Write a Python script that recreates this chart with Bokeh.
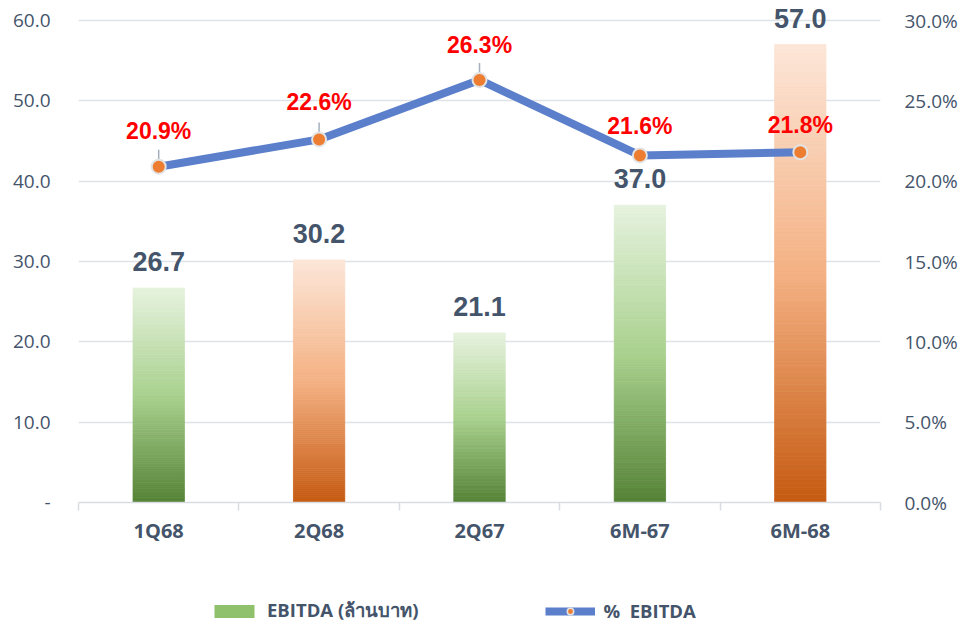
import math
from bokeh.plotting import figure
from bokeh.layouts import column
from bokeh.models import (Range1d, LinearAxis, FixedTicker, PrintfTickFormatter,
                          Legend, LegendItem, ColumnDataSource)
from bokeh.core.properties import value
from bokeh.embed import file_html
from bokeh.resources import INLINE

# ---- data ----
categories = ["1Q68", "2Q68", "2Q67", "6M-67", "6M-68"]
ebitda = [26.7, 30.2, 21.1, 37.0, 57.0]
ebitda_pct = [20.9, 22.6, 26.3, 21.6, 21.8]
left_ticks = [0, 10, 20, 30, 40, 50, 60]
right_ticks = [0, 5, 10, 15, 20, 25, 30]
legend_labels = ["EBITDA (ล้านบาท)", "%  EBITDA"]

# ---- styles ----
bar_group = ["green", "orange", "green", "green", "orange"]
gradients = {
    "green": [(0.0, "#548235"), (0.5, "#a9d18e"), (1.0, "#e6f2de")],
    "orange": [(0.0, "#c55a11"), (0.5, "#f4b183"), (1.0, "#fce6d8")],
}
pct_label_offsets = [36, 37, 35, 29, 27]
pct_leader = [True, True, True, False, False]
TXT = "#44546a"
FRAME_H = 502      # frame height in px; 60 / 30 sit 20px below its top
TOP_PAD = 20


def hex2rgb(h):
    return tuple(int(h[i:i + 2], 16) for i in (1, 3, 5))


def interp(stops, t):
    for (t0, c0), (t1, c1) in zip(stops, stops[1:]):
        if t <= t1:
            f = (t - t0) / (t1 - t0)
            a, b = hex2rgb(c0), hex2rgb(c1)
            return "#%02x%02x%02x" % tuple(round(a[j] + (b[j] - a[j]) * f) for j in range(3))
    return stops[-1][1]


n = len(categories)
centers = [i + 0.5 for i in range(n)]
bounds = [float(i) for i in range(n + 1)]
scale = FRAME_H / (FRAME_H - TOP_PAD)

p = figure(width=962, height=590, output_backend="svg", toolbar_location=None,
           x_range=Range1d(0, n), y_range=Range1d(0, left_ticks[-1] * scale),
           min_border_left=78, min_border_right=82, min_border_top=0, min_border_bottom=88)
p.outline_line_color = None
p.background_fill_color = "white"
p.border_fill_color = "white"
p.extra_y_ranges = {"pct": Range1d(0, right_ticks[-1] * scale)}

# grid
p.xgrid.visible = False
p.ygrid.ticker = FixedTicker(ticks=left_ticks)
p.ygrid.grid_line_color = "#dfe3e8"
p.ygrid.grid_line_width = 1.5

# left axis
la = p.yaxis[0]
la.ticker = FixedTicker(ticks=left_ticks)
la.major_label_overrides = {t: ("-" if t == 0 else "%.1f" % t) for t in left_ticks}
la.axis_line_color = None
la.major_tick_line_color = None
la.minor_tick_line_color = None
la.major_label_standoff = 22
la.major_label_text_font = "Open Sans"
la.major_label_text_font_size = "19px"
la.major_label_text_color = TXT

# right axis
ra = LinearAxis(y_range_name="pct", ticker=FixedTicker(ticks=right_ticks),
                formatter=PrintfTickFormatter(format="%.1f%%"))
ra.axis_line_color = None
ra.major_tick_line_color = None
ra.minor_tick_line_color = None
ra.major_label_standoff = 18
ra.major_label_text_font = "Open Sans"
ra.major_label_text_font_size = "19px"
ra.major_label_text_color = TXT
p.add_layout(ra, "right")

# bottom axis
xa = p.xaxis[0]
xa.ticker = FixedTicker(ticks=centers, minor_ticks=bounds)
xa.major_label_overrides = {c: lab for c, lab in zip(centers, categories)}
xa.axis_line_color = "#d9dde3"
xa.axis_line_width = 1.5
xa.major_tick_line_color = None
xa.minor_tick_line_color = "#d9dde3"
xa.minor_tick_line_width = 1.5
xa.minor_tick_in = 0
xa.minor_tick_out = 8
xa.major_label_standoff = 6
xa.major_label_text_font = "Open Sans"
xa.major_label_text_font_style = "bold"
xa.major_label_text_font_size = "20px"
xa.major_label_text_color = TXT

# gradient bars built from slices of each value
N = 120
bx, bb, bt, bc = [], [], [], []
for i, v in enumerate(ebitda):
    stops = gradients[bar_group[i]]
    for k in range(N):
        bx.append(centers[i])
        bb.append(v * k / N)
        bt.append(v * (k + 1) / N)
        bc.append(interp(stops, (k + 0.5) / N))
bars = p.vbar(x=bx, bottom=bb, top=bt, width=0.32, fill_color=bc, line_color=bc, line_width=0.8)

# bar labels
p.text(x=centers, y=ebitda, text=["%.1f" % v for v in ebitda],
       text_align="center", text_baseline="bottom", y_offset=-17,
       text_font=value("Liberation Sans"), text_font_style="bold",
       text_font_size="27px", text_color=TXT)

# line
pline = p.line(x=centers, y=ebitda_pct, y_range_name="pct", line_color="#5b7fca",
               line_width=8, line_join="round")
lx = [c for c, f in zip(centers, pct_leader) if f]
ly = [v for v, f in zip(ebitda_pct, pct_leader) if f]
p.ray(x=lx, y=ly, y_range_name="pct", length=17, length_units="screen",
      angle=math.pi / 2, line_color="#a5afbd", line_width=1.5)
pmark = p.scatter(x=centers, y=ebitda_pct, y_range_name="pct", size=14,
                  fill_color="#ed7d31", line_color="#e3e3e3", line_width=2)

src = ColumnDataSource(dict(x=centers, y=ebitda_pct, t=["%.1f%%" % v for v in ebitda_pct],
                            off=[-o for o in pct_label_offsets]))
p.text(x="x", y="y", text="t", source=src, y_range_name="pct", y_offset="off",
       text_align="center", text_baseline="middle",
       text_font=value("Liberation Sans"), text_font_style="bold",
       text_font_size="23px", text_color="#ff0000")

# legend strip below the chart
lf = figure(width=962, height=35, output_backend="svg", toolbar_location=None,
            x_range=Range1d(0, 1), y_range=Range1d(0, 1),
            min_border_left=0, min_border_right=0, min_border_top=0, min_border_bottom=0)
lf.axis.visible = False
lf.grid.visible = False
lf.outline_line_color = None
lf.background_fill_color = "white"
lf.border_fill_color = "white"
r_bar = lf.vbar(x=[0.5], top=[1], width=0.1, fill_color="#8fc06c", line_color=None, visible=False)
r_line = lf.line(x=[0, 1], y=[0.5, 0.5], line_color="#5b7fca", line_width=8, visible=False)
r_mark = lf.scatter(x=[0.5], y=[0.5], size=12, fill_color="#ed7d31",
                    line_color="#e3e3e3", line_width=1.5, visible=False)
legend = Legend(items=[LegendItem(label=legend_labels[0], renderers=[r_bar]),
                       LegendItem(label=legend_labels[1], renderers=[r_line, r_mark])],
                orientation="horizontal", location=(131, 0), padding=0, margin=0,
                spacing=127, glyph_width=50, glyph_height=16, label_standoff=8,
                border_line_color=None, background_fill_alpha=0,
                label_text_font="Open Sans", label_text_font_style="bold",
                label_text_font_size="18.5px", label_text_color=TXT)
lf.add_layout(legend)

open("out.html", "w").write(file_html(column(p, lf, spacing=0), INLINE))
